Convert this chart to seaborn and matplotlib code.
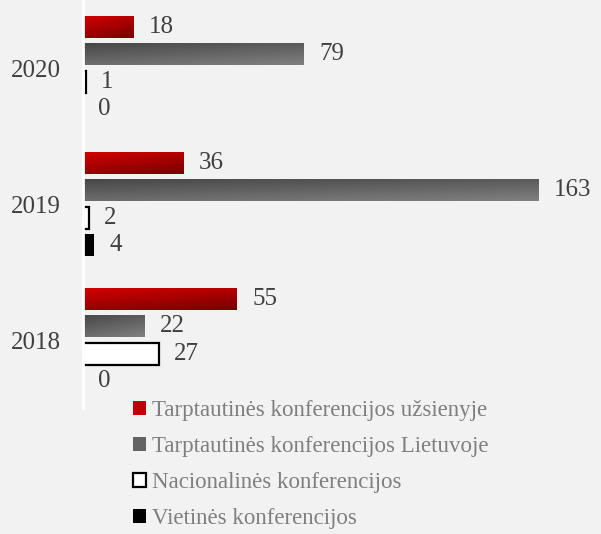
"""Konferencijos pagal metus: horizontalios juostos su gradientu."""

import numpy as np
import pandas as pd
import matplotlib.pyplot as plt
from matplotlib.colors import LinearSegmentedColormap
from matplotlib.patches import Patch
import seaborn as sns

# --- duomenys ---
metai = ["2020", "2019", "2018"]
kategorijos = [
    "Tarptautinės konferencijos užsienyje",
    "Tarptautinės konferencijos Lietuvoje",
    "Nacionalinės konferencijos",
    "Vietinės konferencijos",
]
uzsienyje = [18, 36, 55]
lietuvoje = [79, 163, 22]
nacionalines = [1, 2, 27]
vietines = [0, 4, 0]

spalvos = ["#B00000", "#606060", "#FFFFFF", "#000000"]
gradientai = {
    0: ("#D40000", "#7A0000"),
    1: ("#474747", "#7F7F7F"),
}

df = pd.DataFrame({
    "metai": metai * 4,
    "kategorija": [k for k in kategorijos for _ in metai],
    "reiksme": uzsienyje + lietuvoje + nacionalines + vietines,
})

BG = "#F2F2F2"
FONT = "Liberation Serif"

fig = plt.figure(figsize=(6.01, 5.34), dpi=100, facecolor=BG)
ax = fig.add_axes([83 / 601, 1 - 408 / 534, 516 / 601, 408 / 534], facecolor=BG)

sns.barplot(
    data=df, y="metai", x="reiksme", hue="kategorija",
    order=metai, hue_order=kategorijos, palette=spalvos,
    orient="h", width=0.8, gap=0.19, legend=False, ax=ax,
    linewidth=0, saturation=1,
)

# gradientai ant raudonų ir pilkų juostų
for i, cont in enumerate(ax.containers):
    if i == 2:
        for bar in cont:
            bar.set_edgecolor("black")
            bar.set_linewidth(1.6)
    if i in gradientai:
        cmap = LinearSegmentedColormap.from_list(f"g{i}", gradientai[i])
        for bar in cont:
            x0, y0 = bar.get_x(), bar.get_y()
            w, h = bar.get_width(), bar.get_height()
            if w <= 0:
                continue
            jj, ii = np.meshgrid(np.linspace(0, 1, 64), np.linspace(0, 1, 16))
            grad = (0.5 * jj + ii) / 1.5
            im = ax.imshow(grad, cmap=cmap, extent=[x0, x0 + w, y0, y0 + h],
                           origin="lower", aspect="auto", zorder=bar.get_zorder() + 0.1,
                           interpolation="bilinear")
            im.set_clip_path(bar)
    ax.bar_label(cont, labels=[f"{v:g}" for v in cont.datavalues], padding=11,
                 fontsize=18, color="#404040", family=FONT)

ax.set_xlim(0, 184.5)
ax.set_ylim(2.5, -0.5)
ax.set_xlabel("")
ax.set_ylabel("")
ax.set_xticks([])
ax.tick_params(axis="y", length=0, pad=16)
for lab in ax.get_yticklabels():
    lab.set_fontfamily(FONT)
    lab.set_fontsize(18)
    lab.set_color("#404040")
for s in ["top", "right", "bottom"]:
    ax.spines[s].set_visible(False)
ax.spines["left"].set_color("white")
ax.spines["left"].set_linewidth(2)

handles = [
    Patch(facecolor="#C00000", edgecolor="none"),
    Patch(facecolor="#636363", edgecolor="none"),
    Patch(facecolor="white", edgecolor="black", linewidth=1.6),
    Patch(facecolor="black", edgecolor="none"),
]
fig.legend(
    handles, kategorijos, loc="upper left", bbox_to_anchor=(133 / 601, 1 - 400 / 534),
    frameon=False, borderpad=0, borderaxespad=0, handlelength=0.55, handleheight=0.55,
    handletextpad=0.3, labelspacing=0.66, labelcolor="#7F7F7F",
    prop={"family": FONT, "size": 16.5},
)

fig.savefig("out.png", dpi=100, facecolor=BG)
